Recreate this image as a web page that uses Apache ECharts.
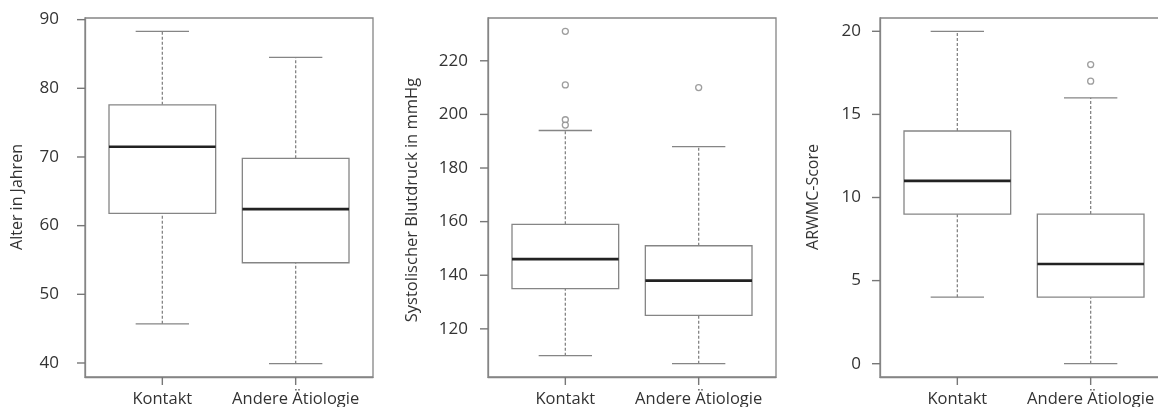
<!DOCTYPE html>
<html>
<head>
<meta charset="utf-8">
<script src="https://cdn.jsdelivr.net/npm/echarts@6/dist/echarts.min.js"></script>
<style>
  html, body { margin: 0; padding: 0; background: #fff; }
  #chart { width: 1158px; height: 407px; }
</style>
</head>
<body>
<div id="chart"></div>
<script>
// Groups shown on every panel
const categories = ['Kontakt', 'Andere Ätiologie'];

// Box statistics per group: [lower whisker, Q1, median, Q3, upper whisker]
const alterStats = [[45.7, 61.8, 71.5, 77.6, 88.3], [39.9, 54.6, 62.4, 69.8, 84.5]];
const blutdruckStats = [[110, 135, 146, 159, 194], [107, 125, 138, 151, 188]];
const arwmcStats = [[4, 9, 11, 14, 20], [0, 4, 6, 9, 16]];

// Outliers: [group number (1 or 2), value]
const alterOutliers = [];
const blutdruckOutliers = [[1, 231], [1, 211], [1, 198], [1, 196], [2, 210]];
const arwmcOutliers = [[2, 18], [2, 17]];

// Tick labels of the value axes
const alterTicks = [40, 50, 60, 70, 80, 90];
const blutdruckTicks = [120, 140, 160, 180, 200, 220];
const arwmcTicks = [0, 5, 10, 15, 20];
const groupTicks = [1, 2];

const axisTitles = ['Alter in Jahren', 'Systolischer Blutdruck in mmHg', 'ARWMC-Score'];

const FONT = 'Open Sans';
const LINE = '#858585';
const TEXT = '#333';
const X_MIN = 0.42, X_MAX = 2.58;
const TICK_LEN = 8;

const panels = [
  { stats: alterStats, outliers: alterOutliers, ticks: alterTicks, min: 37.96, max: 90.24,
    left: 85, labelMargin: 26, title: { x: 17, y: 197, size: 16 } },
  { stats: blutdruckStats, outliers: blutdruckOutliers, ticks: blutdruckTicks, min: 102.04, max: 235.96,
    left: 488, labelMargin: 20, title: { x: 412, y: 200, size: 16.5 } },
  { stats: arwmcStats, outliers: arwmcOutliers, ticks: arwmcTicks, min: -0.8, max: 20.8,
    left: 880, labelMargin: 19, title: { x: 813, y: 197, size: 16 } }
];

function renderBox(params, api) {
  const x = api.value(0);
  const lo = api.value(1), q1 = api.value(2), med = api.value(3), q3 = api.value(4), hi = api.value(5);
  const halfBox = 0.4, halfCap = 0.2;
  const p = (xx, yy) => api.coord([xx, yy]);
  const dash = { stroke: LINE, lineWidth: 1.3, lineDash: [3, 2] };
  const solid = { stroke: LINE, lineWidth: 1.3 };
  const tl = p(x - halfBox, q3), br = p(x + halfBox, q1);
  return {
    type: 'group',
    children: [
      { type: 'line', shape: { x1: p(x, q3)[0], y1: p(x, q3)[1], x2: p(x, hi)[0], y2: p(x, hi)[1] }, style: dash },
      { type: 'line', shape: { x1: p(x, lo)[0], y1: p(x, lo)[1], x2: p(x, q1)[0], y2: p(x, q1)[1] }, style: dash },
      { type: 'line', shape: { x1: p(x - halfCap, hi)[0], y1: p(x, hi)[1], x2: p(x + halfCap, hi)[0], y2: p(x, hi)[1] }, style: solid },
      { type: 'line', shape: { x1: p(x - halfCap, lo)[0], y1: p(x, lo)[1], x2: p(x + halfCap, lo)[0], y2: p(x, lo)[1] }, style: solid },
      { type: 'rect', shape: { x: tl[0], y: tl[1], width: br[0] - tl[0], height: br[1] - tl[1] },
        style: { fill: '#fff', stroke: LINE, lineWidth: 1.3 } },
      { type: 'line', shape: { x1: p(x - halfBox, med)[0], y1: p(x, med)[1], x2: p(x + halfBox, med)[0], y2: p(x, med)[1] },
        style: { stroke: '#222', lineWidth: 2.6 } }
    ]
  };
}

const grid = [], xAxis = [], yAxis = [], series = [];
panels.forEach((pnl, i) => {
  grid.push({ left: pnl.left, top: 18, width: 288, height: 359, show: true,
    borderColor: LINE, borderWidth: 1.3, backgroundColor: '#fff', containLabel: false, outerBoundsMode: 'none' });
  xAxis.push({
    type: 'value', gridIndex: i, min: X_MIN, max: X_MAX,
    splitLine: { show: false },
    axisLine: { show: true, onZero: false, lineStyle: { color: LINE, width: 1.3 } },
    axisTick: { show: false },
    axisLabel: { customValues: groupTicks, margin: 14, fontFamily: FONT, fontSize: 16.5, color: TEXT,
      formatter: v => categories[Math.round(v) - 1] }
  });
  yAxis.push({
    type: 'value', gridIndex: i, min: pnl.min, max: pnl.max,
    splitLine: { show: false },
    axisLine: { show: true, onZero: false, lineStyle: { color: LINE, width: 1.3 } },
    axisTick: { show: false },
    axisLabel: { customValues: pnl.ticks, margin: pnl.labelMargin, fontFamily: FONT, fontSize: 17, color: TEXT }
  });
  series.push({
    type: 'custom', xAxisIndex: i, yAxisIndex: i,
    data: pnl.stats.map((s, k) => [k + 1].concat(s)),
    renderItem: renderBox,
    silent: true
  });
  series.push({
    type: 'scatter', xAxisIndex: i, yAxisIndex: i,
    data: pnl.outliers,
    symbol: 'circle', symbolSize: 6,
    itemStyle: { color: '#fff', borderColor: LINE, borderWidth: 1.3 },
    silent: true
  });
});

const chart = echarts.init(document.getElementById('chart'), null, { renderer: 'canvas' });
chart.setOption({ animation: false, grid, xAxis, yAxis, series });

// Outward tick marks and rotated axis titles, placed through each panel's scales
const graphic = [];
const tickStyle = { stroke: '#777', lineWidth: 1.4 };
panels.forEach((pnl, i) => {
  const finder = { xAxisIndex: i, yAxisIndex: i };
  pnl.ticks.forEach(v => {
    const pt = chart.convertToPixel(finder, [X_MIN, v]);
    graphic.push({ type: 'line', silent: true, z: 10,
      shape: { x1: pt[0] - TICK_LEN, y1: pt[1], x2: pt[0], y2: pt[1] }, style: tickStyle });
  });
  groupTicks.forEach(v => {
    const pt = chart.convertToPixel(finder, [v, pnl.min]);
    graphic.push({ type: 'line', silent: true, z: 10,
      shape: { x1: pt[0], y1: pt[1], x2: pt[0], y2: pt[1] + TICK_LEN }, style: tickStyle });
  });
  graphic.push({
    type: 'text', x: pnl.title.x, y: pnl.title.y, rotation: Math.PI / 2, silent: true,
    style: { text: axisTitles[i], fontFamily: FONT, fontSize: pnl.title.size, fill: TEXT,
      align: 'center', verticalAlign: 'middle' }
  });
});
chart.setOption({ graphic: { elements: graphic } });
</script>
</body>
</html>
